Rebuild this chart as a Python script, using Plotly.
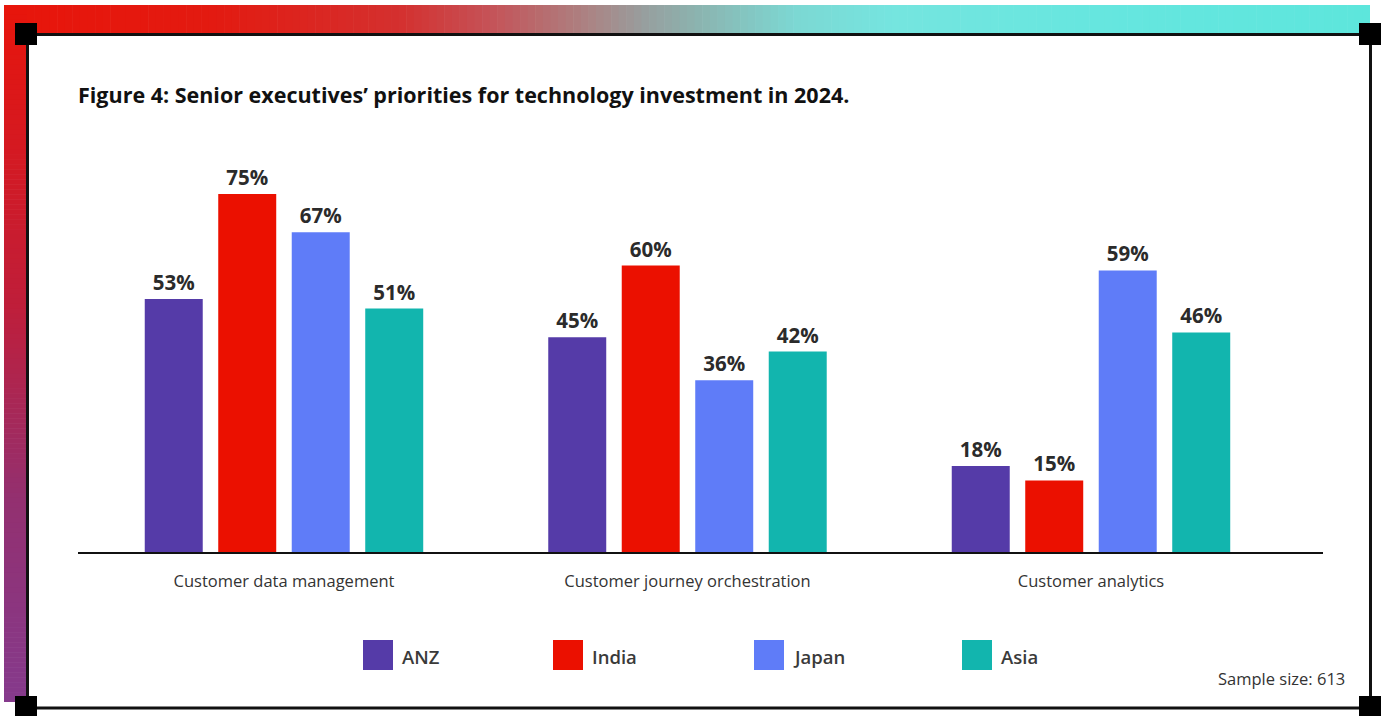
import plotly.graph_objects as go

# ---- data -------------------------------------------------------------
categories = ["Customer data management", "Customer journey orchestration", "Customer analytics"]
regions = ["ANZ", "India", "Japan", "Asia"]
anz = [53, 45, 18]
india = [75, 60, 15]
japan = [67, 36, 59]
asia = [51, 42, 46]
series_values = [anz, india, japan, asia]
colors = ["#553BA8", "#EB1000", "#5F7CF8", "#12B5AE"]

title_text = "Figure 4: Senior executives\u2019 priorities for technology investment in 2024."
note_text = "Sample size: 613"

W, H = 1382, 716
FONT = "Open Sans"


def px(x):
    return x / W


def py(y):
    return 1 - y / H


def mix(c1, c2, t):
    a = [int(c1[i:i + 2], 16) for i in (1, 3, 5)]
    b = [int(c2[i:i + 2], 16) for i in (1, 3, 5)]
    return "rgb({},{},{})".format(*[round(a[k] + (b[k] - a[k]) * t) for k in range(3)])


def ramp(stops, t):
    for (t0, c0), (t1, c1) in zip(stops, stops[1:]):
        if t <= t1:
            return mix(c0, c1, (t - t0) / (t1 - t0) if t1 > t0 else 0)
    return stops[-1][1]


fig = go.Figure()

for name, vals, col in zip(regions, series_values, colors):
    fig.add_trace(go.Bar(
        x=categories, y=vals, name=name,
        marker=dict(color=col, line=dict(width=0)),
        text=[f"{v}%" for v in vals], textposition="outside",
        textfont=dict(family=FONT, size=20.5, color="#2B2B2B", weight="bold"),
        cliponaxis=False, showlegend=False, hoverinfo="skip",
    ))

shapes = []

# top gradient band
top_stops = [(0.0, "#E8150B"), (0.15, "#E31A10"), (0.29, "#D4302F"), (0.36, "#C4555A"),
             (0.435, "#A88888"), (0.47, "#979F9F"), (0.505, "#8CB2AE"), (0.58, "#7CD8D3"),
             (0.65, "#75E5DF"), (0.8, "#66E6DF"), (1.0, "#5DE6DC")]
x0, x1, nseg = 4, 1370, 180
for i in range(nseg):
    a = x0 + (x1 - x0) * i / nseg
    b = x0 + (x1 - x0) * (i + 1) / nseg + 0.6
    shapes.append(dict(type="rect", xref="paper", yref="paper",
                       x0=px(a), x1=px(min(b, x1)), y0=py(33), y1=py(5),
                       fillcolor=ramp(top_stops, (i + 0.5) / nseg), line=dict(width=0), layer="below"))

# left gradient band
left_stops = [(0.0, "#E8150B"), (0.43, "#BF1E3A"), (0.71, "#933070"), (1.0, "#853A8C")]
y0, y1, nseg = 5, 702, 140
for i in range(nseg):
    a = y0 + (y1 - y0) * i / nseg
    b = y0 + (y1 - y0) * (i + 1) / nseg + 0.6
    shapes.append(dict(type="rect", xref="paper", yref="paper",
                       x0=px(4), x1=px(27), y0=py(min(b, y1)), y1=py(a),
                       fillcolor=ramp(left_stops, (i + 0.5) / nseg), line=dict(width=0), layer="below"))

# frame lines
frame = dict(type="line", xref="paper", yref="paper", line=dict(color="#111111", width=3))
shapes.append({**frame, "x0": px(26), "x1": px(1371), "y0": py(34.5), "y1": py(34.5)})
shapes.append({**frame, "x0": px(26), "x1": px(1371), "y0": py(708), "y1": py(708)})
shapes.append({**frame, "x0": px(27.5), "x1": px(27.5), "y0": py(34), "y1": py(708)})
shapes.append({**frame, "x0": px(1370.5), "x1": px(1370.5), "y0": py(34), "y1": py(708)})

# corner squares
for cx, cy in [(26, 34), (1370, 34), (26, 707), (1370, 707)]:
    shapes.append(dict(type="rect", xref="paper", yref="paper",
                       x0=px(cx - 11), x1=px(cx + 11), y0=py(cy + 11), y1=py(cy - 11),
                       fillcolor="#000000", line=dict(width=0)))

annotations = []

# legend
legend_x = [363, 553, 754, 962]
for lx, name, col in zip(legend_x, regions, colors):
    shapes.append(dict(type="rect", xref="paper", yref="paper",
                       x0=px(lx), x1=px(lx + 30), y0=py(670), y1=py(640),
                       fillcolor=col, line=dict(width=0)))
    annotations.append(dict(xref="paper", yref="paper", x=px(lx + 37), y=py(656),
                            text=name, showarrow=False, xanchor="left", yanchor="middle",
                            font=dict(family=FONT, size=18.5, color="#3A3A3A", weight=600)))

annotations.append(dict(xref="paper", yref="paper", x=px(76), y=py(94), text=title_text,
                        showarrow=False, xanchor="left", yanchor="middle",
                        font=dict(family=FONT, size=21.5, color="#111111", weight="bold")))
annotations.append(dict(xref="paper", yref="paper", x=px(1347), y=py(678), text=note_text,
                        showarrow=False, xanchor="right", yanchor="middle",
                        font=dict(family=FONT, size=16.5, color="#333333")))

fig.update_layout(
    width=W, height=H,
    margin=dict(l=0, r=0, t=0, b=0),
    paper_bgcolor="white", plot_bgcolor="white",
    barmode="group", bargap=0.2714, bargroupgap=0.211,
    shapes=shapes, annotations=annotations,
    xaxis=dict(domain=[px(78), px(1323)], range=[-0.5105, 2.575],
               showline=True, linecolor="#111111", linewidth=2,
               showgrid=False, zeroline=False, ticks="", ticklabelstandoff=13,
               tickfont=dict(family=FONT, size=16.5, color="#333333"), fixedrange=True),
    yaxis=dict(domain=[py(552), py(552 - 477.3)], range=[0, 100],
               visible=False, showgrid=False, zeroline=False, fixedrange=True),
)

fig.write_html("out.html", config={"displayModeBar": False})
